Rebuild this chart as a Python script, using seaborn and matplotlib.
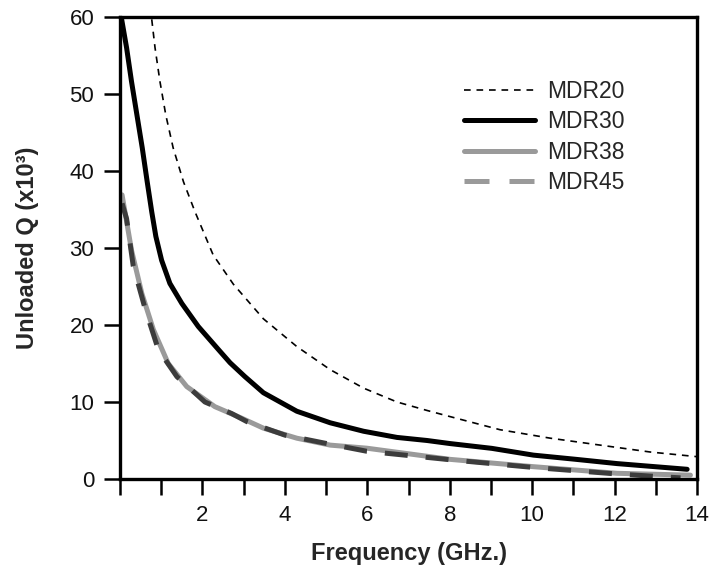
import matplotlib
matplotlib.use("Agg")
import matplotlib.pyplot as plt
from matplotlib.lines import Line2D
import pandas as pd
import seaborn as sns

# values (frequency in GHz, unloaded Q in thousands)
freq_mdr20 = [0.77, 0.85, 0.97, 1.11, 1.29, 1.54, 1.82, 2.26, 2.75, 3.48, 4.29, 5.10,
              5.91, 6.72, 7.45, 8.01, 9.22, 10.44, 11.65, 12.87, 14.0]
q_mdr20 = [59.7, 56.0, 51.6, 47.3, 43.0, 38.6, 34.7, 29.1, 25.3, 20.8, 17.2, 14.2,
           11.8, 10.0, 8.9, 8.1, 6.4, 5.3, 4.4, 3.5, 2.9]

freq_mdr30 = [0.04, 0.16, 0.28, 0.41, 0.54, 0.66, 0.77, 0.87, 1.01, 1.21, 1.50, 1.90,
              2.39, 2.67, 3.03, 3.48, 4.29, 5.10, 5.91, 6.72, 7.45, 8.01, 9.02, 10.03,
              11.05, 12.06, 13.76]
q_mdr30 = [59.7, 56.0, 51.6, 47.3, 43.0, 38.6, 34.7, 31.5, 28.4, 25.4, 22.8, 19.8,
           16.8, 15.1, 13.3, 11.2, 8.8, 7.3, 6.2, 5.4, 5.0, 4.6, 3.98, 3.1,
           2.56, 2.0, 1.26]

freq_mdr38 = [0.05, 0.28, 0.53, 0.81, 1.17, 1.62, 2.30, 2.95, 3.48, 4.29, 5.10, 5.99,
              8.01, 10.03, 12.06, 13.84]
q_mdr38 = [36.9, 29.7, 24.1, 19.4, 15.0, 12.0, 9.4, 7.9, 6.6, 5.3, 4.4, 4.0,
           2.55, 1.6, 0.74, 0.5]

freq_mdr45 = [0.05, 0.16, 0.32, 0.61, 0.93, 1.38, 2.06, 2.71, 3.08, 4.0, 5.02, 5.99,
              8.01, 10.03, 12.06, 13.1, 13.6]
q_mdr45 = [35.8, 33.8, 27.7, 22.1, 16.8, 13.3, 10.0, 8.5, 7.45, 5.7, 4.6, 3.6,
           2.5, 1.5, 0.65, 0.3, 0.15]

series_names = ["MDR20", "MDR30", "MDR38", "MDR45"]

sns.set_style("white")
plt.rcParams["font.family"] = ["Liberation Sans Narrow", "Liberation Sans", "DejaVu Sans"]

fig = plt.figure(figsize=(7.13, 5.84), dpi=100)
ax = fig.add_axes([0.1683, 0.1798, 0.8093, 0.7911])

styles = {
    "MDR20": dict(color="black", linewidth=1.2, dashes=(4, 3.5)),
    "MDR30": dict(color="black", linewidth=3.6),
    "MDR38": dict(color="#9a9a9a", linewidth=3.6),
    "MDR45": dict(color="#3c3c3c", linewidth=3.6, dashes=(4.6, 3.6)),
}
data = {
    "MDR20": (freq_mdr20, q_mdr20),
    "MDR30": (freq_mdr30, q_mdr30),
    "MDR38": (freq_mdr38, q_mdr38),
    "MDR45": (freq_mdr45, q_mdr45),
}

for name in series_names:
    f, q = data[name]
    df = pd.DataFrame({"freq": f, "q": q})
    st = dict(styles[name])
    dashes = st.pop("dashes", None)
    line_ax = sns.lineplot(data=df, x="freq", y="q", ax=ax, sort=False,
                           estimator=None, **st)
    line_ax.lines[-1].set_solid_joinstyle("round")
    if dashes is not None:
        line_ax.lines[-1].set_dashes(dashes)

ax.set_xlim(0, 14)
ax.set_ylim(0, 60)
ax.set_xticks(range(0, 15))
ax.set_xticklabels(["" if (i == 0 or i % 2) else str(i) for i in range(0, 15)])
ax.set_yticks(range(0, 61, 10))

for sp in ax.spines.values():
    sp.set_visible(True)
    sp.set_linewidth(2.4)
    sp.set_color("black")

ax.tick_params(axis="both", direction="out", length=11.5, width=1.8,
               color="black", labelsize=16, pad=7, labelcolor="#111111")
ax.tick_params(axis="x", bottom=True)
ax.tick_params(axis="y", left=True)

ax.set_xlabel("Frequency (GHz.)", fontsize=17, fontweight="bold",
              family=["Liberation Sans", "DejaVu Sans"], labelpad=12)
ax.set_ylabel("Unloaded Q (x10³)", fontsize=17, fontweight="bold",
              family=["Liberation Sans", "DejaVu Sans"], labelpad=22)

handles = [
    Line2D([], [], color="black", linewidth=1.2, dashes=(4, 3.5)),
    Line2D([], [], color="black", linewidth=3.6),
    Line2D([], [], color="#9a9a9a", linewidth=3.6),
    Line2D([], [], color="#9a9a9a", linewidth=3.6, dashes=(5, 4)),
]
ax.legend(handles, series_names, loc="upper left", bbox_to_anchor=(0.58, 0.884),
          frameon=False, fontsize=16.5, handlelength=3.1, handletextpad=0.55,
          labelspacing=0.33, borderaxespad=0)

fig.savefig("out.png", dpi=100)
